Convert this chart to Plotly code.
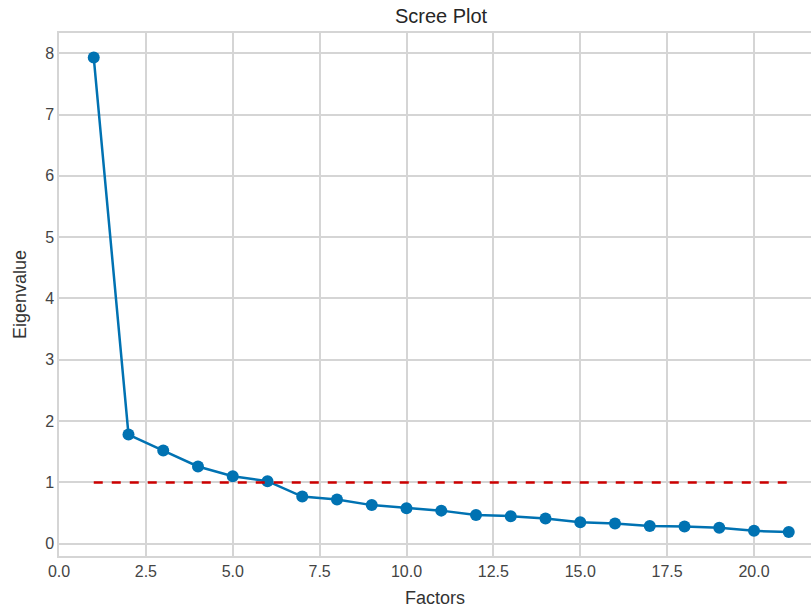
import plotly.graph_objects as go

factors = list(range(1, 22))
eigenvalues = [7.93, 1.78, 1.52, 1.26, 1.10, 1.02, 0.77, 0.72, 0.63, 0.58,
               0.54, 0.47, 0.45, 0.41, 0.35, 0.33, 0.29, 0.28, 0.26, 0.21, 0.19]
kaiser_x = [1, 21]
kaiser_y = [1, 1]

x_ticks = [0, 2.5, 5, 7.5, 10, 12.5, 15, 17.5, 20]
x_tick_text = ["0.0", "2.5", "5.0", "7.5", "10.0", "12.5", "15.0", "17.5", "20.0"]
y_ticks = [0, 1, 2, 3, 4, 5, 6, 7, 8]

fig = go.Figure()
fig.add_trace(go.Scatter(
    x=factors, y=eigenvalues, mode="lines+markers",
    line=dict(color="#0072B2", width=2.5),
    marker=dict(color="#0072B2", size=12),
    showlegend=False,
))
fig.add_trace(go.Scatter(
    x=kaiser_x, y=kaiser_y, mode="lines",
    line=dict(color="#CC0000", width=2.5, dash="dash"),
    showlegend=False,
))

grid = "#D5D5D5"
font = "Liberation Sans, Arial, sans-serif"
fig.update_layout(
    width=811, height=609,
    margin=dict(l=59, r=0, t=33, b=53),
    paper_bgcolor="white", plot_bgcolor="white",
    font=dict(family=font, color="#333333", size=16),
    title=dict(text="Scree Plot", x=0.508, xref="paper", xanchor="center",
               y=0.974, yref="container", yanchor="middle",
               font=dict(size=20, color="#262626")),
    xaxis=dict(
        range=[0, 21.64], tickvals=x_ticks, ticktext=x_tick_text,
        showgrid=True, gridcolor=grid, gridwidth=1.5,
        showline=True, linecolor=grid, linewidth=1.5, mirror=True,
        zeroline=False, ticks="", automargin=False,
        tickfont=dict(size=16, color="#444444"),
        title=dict(text="Factors", font=dict(size=18, color="#333333"), standoff=12),
    ),
    yaxis=dict(
        range=[-0.2, 8.33], tickvals=y_ticks,
        showgrid=True, gridcolor=grid, gridwidth=1.5,
        showline=True, linecolor=grid, linewidth=1.5, mirror=True,
        zeroline=False, ticks="", automargin=False,
        tickfont=dict(size=16, color="#444444"),
        title=dict(text="Eigenvalue", font=dict(size=18, color="#333333"), standoff=14),
    ),
)

fig.write_html("out.html", config={"displayModeBar": False},
               post_script="document.body.style.margin='0';")
